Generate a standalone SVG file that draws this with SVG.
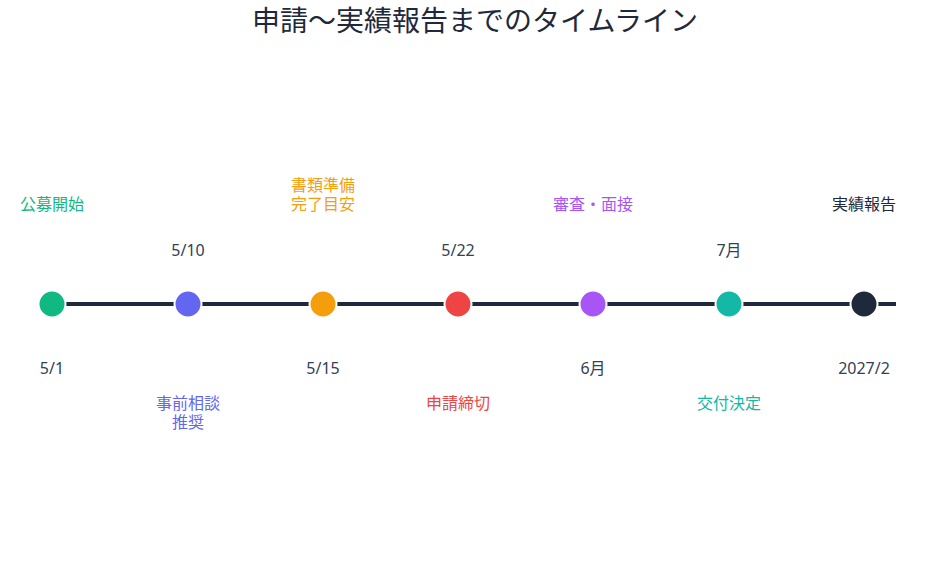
<svg xmlns="http://www.w3.org/2000/svg" width="950" height="574" viewBox="0 0 950 574">
<style>
.t{font-family:"Noto Sans CJK JP","Noto Sans",sans-serif;font-size:16px;text-anchor:middle}
.d{font-family:"Noto Sans","Noto Sans CJK JP",sans-serif;font-size:16px;text-anchor:middle;fill:#334155}
.n{stroke:#ffffff;stroke-width:2}
</style>
<rect width="950" height="574" fill="#ffffff"/>
<text x="475" y="31" font-family="Noto Sans CJK JP, Noto Sans, sans-serif" font-size="28" text-anchor="middle" fill="#1e293b">申請〜実績報告までのタイムライン</text>
<g id="connectors">
<line x1="52" y1="304" x2="896" y2="304" stroke="#1e293b" stroke-width="4"/>
</g>
<g id="n1"><circle class="n" cx="52" cy="304" r="13.5" fill="#10b981"/><text class="t" x="52" y="210" fill="#10b981">公募開始</text><text class="d" x="52" y="374">5/1</text></g>
<g id="n2"><circle class="n" cx="188" cy="304" r="13.5" fill="#6366f1"/><text class="d" x="188" y="256">5/10</text><text class="t" x="188" y="409" fill="#6366f1"><tspan x="188">事前相談</tspan><tspan x="188" dy="19">推奨</tspan></text></g>
<g id="n3"><circle class="n" cx="323" cy="304" r="13.5" fill="#f59e0b"/><text class="t" x="323" y="191" fill="#f59e0b"><tspan x="323">書類準備</tspan><tspan x="323" dy="19">完了目安</tspan></text><text class="d" x="323" y="374">5/15</text></g>
<g id="n4"><circle class="n" cx="458" cy="304" r="13.5" fill="#ef4444"/><text class="d" x="458" y="256">5/22</text><text class="t" x="458" y="409" fill="#ef4444">申請締切</text></g>
<g id="n5"><circle class="n" cx="593" cy="304" r="13.5" fill="#a855f7"/><text class="t" x="593" y="210" fill="#a855f7">審査・面接</text><text class="d" x="593" y="374">6月</text></g>
<g id="n6"><circle class="n" cx="729" cy="304" r="13.5" fill="#14b8a6"/><text class="d" x="729" y="256">7月</text><text class="t" x="729" y="409" fill="#14b8a6">交付決定</text></g>
<g id="n7"><circle class="n" cx="864" cy="304" r="13.5" fill="#1e293b"/><text class="t" x="864" y="210" fill="#1e293b">実績報告</text><text class="d" x="864" y="374">2027/2</text></g>
</svg>
